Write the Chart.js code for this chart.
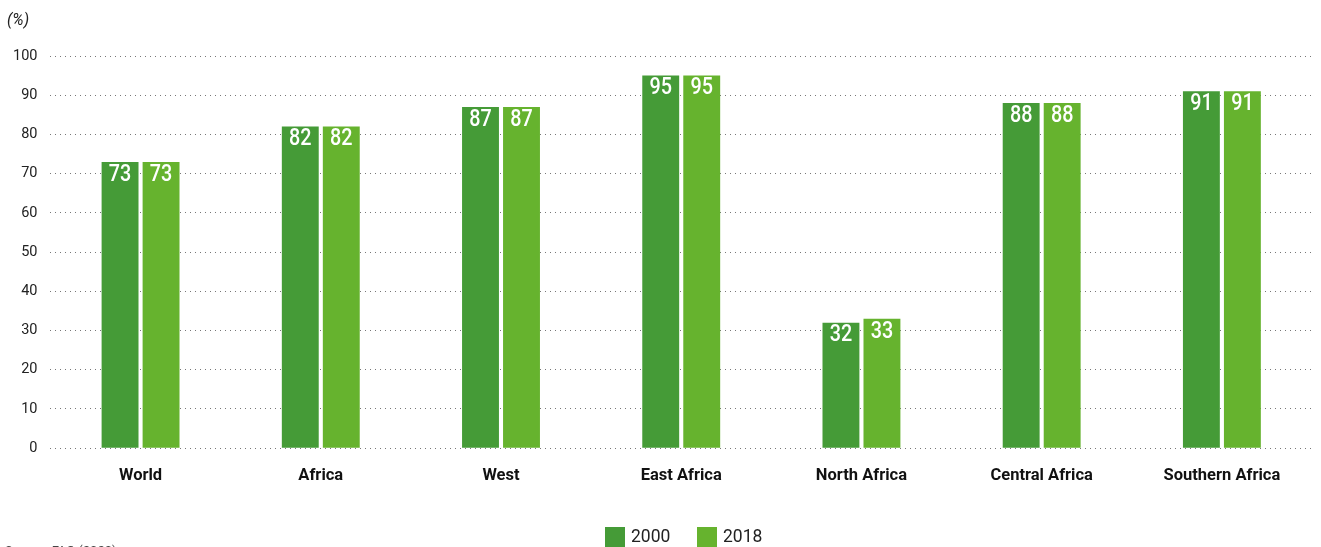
<!DOCTYPE html>
<html>
<head>
<meta charset="utf-8">
<script src="https://cdn.jsdelivr.net/npm/chart.js@4"></script>
<style>
  html, body { margin: 0; padding: 0; background: #fff; }
  #wrap { width: 1321px; height: 547px; position: relative; }
</style>
</head>
<body>
<div id="wrap"><canvas id="chart" width="1321" height="547"></canvas></div>
<script>
const regions = ['World', 'Africa', 'West', 'East Africa', 'North Africa', 'Central Africa', 'Southern Africa'];
const share2000 = [73, 82, 87, 95, 32, 88, 91];
const share2018 = [73, 82, 87, 95, 33, 88, 91];
const yTicks = [0, 10, 20, 30, 40, 50, 60, 70, 80, 90, 100];

const font = '"Roboto", "Liberation Sans", sans-serif';

// white value labels inside the top of each bar, plus the unit, legend and source notes
const barLabels = {
    id: 'barLabels',
    afterDatasetsDraw(chart) {
        const ctx = chart.ctx;
        ctx.save();
        ctx.fillStyle = '#ffffff';
        ctx.font = '500 23px ' + font;
        ctx.textAlign = 'center';
        ctx.textBaseline = 'middle';
        chart.data.datasets.forEach((ds, i) => {
            chart.getDatasetMeta(i).data.forEach((bar, j) => {
                // slightly condensed digits
                ctx.save();
                ctx.translate(bar.x, bar.y + 13);
                ctx.scale(0.86, 1);
                ctx.fillText(ds.data[j], 0, 0);
                ctx.restore();
            });
        });

        // legend row along the bottom edge
        let lx = 605;
        ctx.textAlign = 'left';
        ctx.font = '17.5px ' + font;
        chart.data.datasets.forEach(ds => {
            ctx.fillStyle = ds.backgroundColor;
            ctx.fillRect(lx, 527, 20, 20);
            ctx.fillStyle = '#222';
            ctx.fillText(ds.label, lx + 26, 538);
            lx += 92;
        });

        ctx.fillStyle = '#222';
        ctx.font = 'italic 16px ' + font;
        ctx.fillText('(%)', 7, 21);
        ctx.font = '13px ' + font;
        ctx.fillStyle = '#444';
        ctx.fillText('Source: FAO (2020)', 5, 552);
        ctx.restore();
    }
};

new Chart(document.getElementById('chart'), {
    type: 'bar',
    data: {
        labels: regions,
        datasets: [{
            label: '2000',
            data: share2000,
            backgroundColor: '#459b37'
        }, {
            label: '2018',
            data: share2018,
            backgroundColor: '#66b32e'
        }]
    },
    options: {
        responsive: false,
        animation: false,
        categoryPercentage: 0.455,
        barPercentage: 0.9,
        layout: { padding: { top: 56, right: 9, left: 0, bottom: 51 } },
        plugins: {
            tooltip: { enabled: false },
            legend: { display: false }
        },
        scales: {
            x: {
                grid: { display: false },
                border: { display: false },
                ticks: {
                    padding: 10,
                    color: '#111',
                    font: { size: 16.5, weight: 'bold', family: font }
                }
            },
            y: {
                min: 0,
                max: 100,
                afterBuildTicks: axis => { axis.ticks = yTicks.map(v => ({ value: v })); },
                border: { display: false, dash: [1, 4] },
                grid: {
                    color: '#777',
                    lineWidth: 1,
                    drawTicks: false
                },
                ticks: {
                    padding: 13,
                    color: '#222',
                    font: { size: 14.5, family: font }
                }
            }
        }
    },
    plugins: [barLabels]
});
</script>
</body>
</html>
